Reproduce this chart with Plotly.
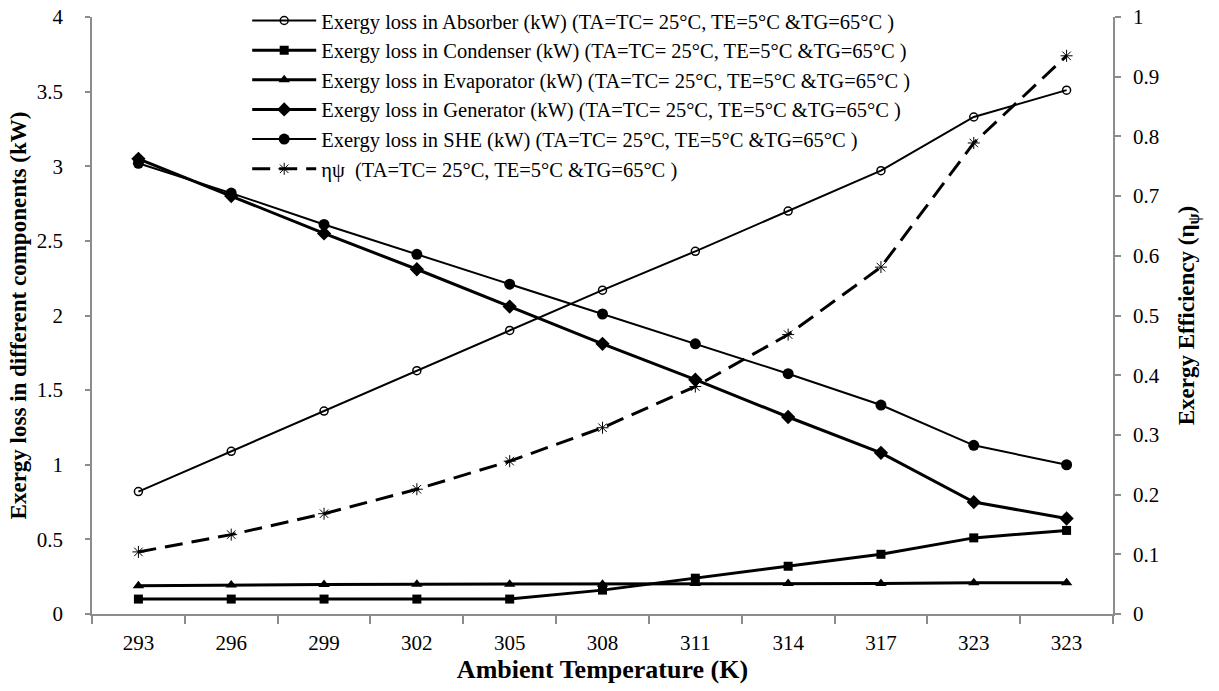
import plotly.graph_objects as go

temps = ["293", "296", "299", "302", "305", "308", "311", "314", "317", "323", "323"]
absorber = [0.82, 1.09, 1.36, 1.63, 1.90, 2.17, 2.43, 2.70, 2.97, 3.33, 3.51]
condenser = [0.10, 0.10, 0.10, 0.10, 0.10, 0.16, 0.24, 0.32, 0.40, 0.51, 0.56]
evaporator = [0.19, 0.195, 0.197, 0.199, 0.20, 0.20, 0.205, 0.205, 0.205, 0.21, 0.21]
generator = [3.05, 2.80, 2.55, 2.31, 2.06, 1.81, 1.57, 1.32, 1.08, 0.75, 0.64]
she = [3.02, 2.82, 2.61, 2.41, 2.21, 2.01, 1.81, 1.61, 1.40, 1.13, 1.00]
eta = [0.104, 0.133, 0.168, 0.209, 0.256, 0.312, 0.381, 0.468, 0.581, 0.789, 0.935]

cond = " (TA=TC= 25°C, TE=5°C &TG=65°C )"
xi = list(range(len(temps)))
FONT = "Liberation Serif"

fig = go.Figure()
fig.add_trace(go.Scatter(x=xi, y=absorber, mode="lines+markers",
                         name="Exergy loss in Absorber (kW)" + cond,
                         line=dict(color="black", width=2),
                         marker=dict(symbol="circle-open", size=8, color="black", line=dict(width=1.5))))
fig.add_trace(go.Scatter(x=xi, y=condenser, mode="lines+markers",
                         name="Exergy loss in Condenser (kW)" + cond,
                         line=dict(color="black", width=3),
                         marker=dict(symbol="square", size=9, color="black")))
fig.add_trace(go.Scatter(x=xi, y=evaporator, mode="lines+markers",
                         name="Exergy loss in Evaporator (kW)" + cond,
                         line=dict(color="black", width=3),
                         marker=dict(symbol="triangle-up", size=10, color="black")))
fig.add_trace(go.Scatter(x=xi, y=generator, mode="lines+markers",
                         name="Exergy loss in Generator (kW)" + cond,
                         line=dict(color="black", width=3),
                         marker=dict(symbol="diamond", size=11, color="black")))
fig.add_trace(go.Scatter(x=xi, y=she, mode="lines+markers",
                         name="Exergy loss in SHE (kW)" + cond,
                         line=dict(color="black", width=2),
                         marker=dict(symbol="circle", size=11, color="black")))
fig.add_trace(go.Scatter(x=xi, y=eta, mode="lines+markers", yaxis="y2",
                         name="ηψ " + cond,
                         line=dict(color="black", width=3, dash="18px,9px"),
                         marker=dict(symbol="asterisk-open", size=10, color="black", line=dict(width=1, color="black"))))

axcol = "#8c8c8c"
fig.update_layout(
    width=1219, height=691,
    margin=dict(l=92, r=106, t=17, b=77, autoexpand=False),
    paper_bgcolor="white", plot_bgcolor="white",
    font=dict(family=FONT, size=21, color="black"),
    showlegend=True,
    legend=dict(x=0.152, xanchor="left", y=0.999, yref="container", yanchor="top",
                bgcolor="rgba(0,0,0,0)", font=dict(size=20.5, family=FONT),
                tracegroupgap=0, itemwidth=64),
    xaxis=dict(range=[-0.5, 10.5], tickmode="array", tickvals=xi, ticktext=temps,
               showgrid=False, zeroline=False, showline=True, linecolor=axcol, linewidth=1.5,
               ticks="", tickfont=dict(size=21, family=FONT), ticklabelstandoff=9,
               minor=dict(tickmode="array", tickvals=[i - 0.5 for i in range(len(temps) + 1)],
                          ticks="outside", ticklen=8, tickcolor=axcol, tickwidth=1.5, showgrid=False),
               title=dict(text="<b>Ambient Temperature (K)</b>", font=dict(size=26, family=FONT), standoff=6)),
    yaxis=dict(range=[0, 4], dtick=0.5, showgrid=False, zeroline=False, showline=True,
               linecolor=axcol, linewidth=1.5, ticks="outside", ticklen=5, tickcolor=axcol, tickwidth=1.5,
               tickfont=dict(size=21, family=FONT), ticklabelstandoff=18,
               title=dict(text="<b>Exergy loss in different components (kW)</b>", font=dict(size=23, family=FONT), standoff=4)),
    yaxis2=dict(range=[0, 1], dtick=0.1, overlaying="y", side="right", showgrid=False, zeroline=False,
                showline=True, linecolor=axcol, linewidth=1.5, ticks="outside", ticklen=6, tickcolor=axcol,
                tickwidth=1.5, tickfont=dict(size=21, family=FONT), ticklabelstandoff=8,
                title=dict(text="<b>Exergy Efficiency (η<sub>ψ</sub>)</b>", font=dict(size=23, family=FONT), standoff=19)),
)

fig.write_html("out.html")
